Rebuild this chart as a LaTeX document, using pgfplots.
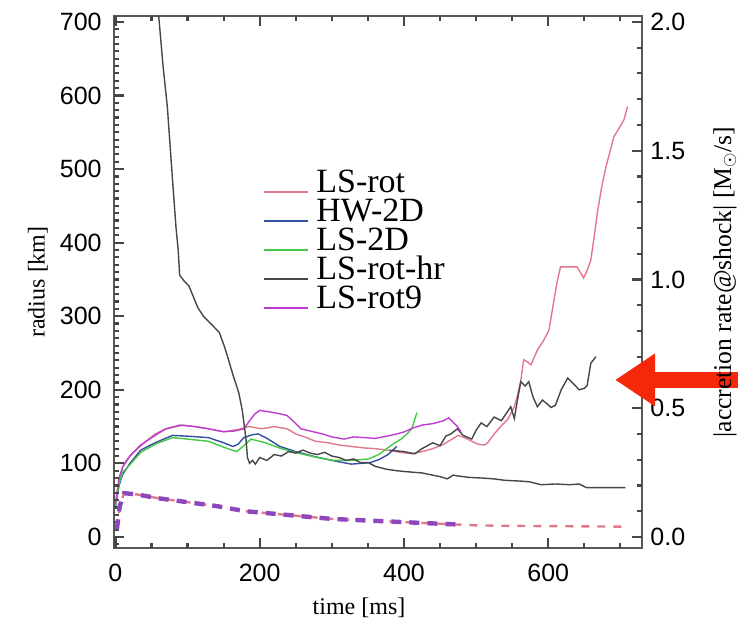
\documentclass[border=0pt]{standalone}
\usepackage{pgfplots}
\pgfplotsset{compat=1.18}
\usepackage{fontspec}
\setmainfont{Liberation Serif}
\setsansfont{Liberation Sans}
\usetikzlibrary{arrows.meta}

\definecolor{lsrot}{RGB}{225,120,140}
\definecolor{hwtwo}{RGB}{50,80,160}
\definecolor{lstwo}{RGB}{70,200,70}
\definecolor{lshr}{RGB}{70,70,70}
\definecolor{rotnine}{RGB}{190,60,210}
\definecolor{dashmix}{RGB}{140,70,190}
\definecolor{arrowred}{RGB}{245,40,10}
\definecolor{tickgray}{RGB}{70,70,70}
\tikzset{tk/.style={draw=tickgray, line width=1.1pt, solid}}

\begin{document}
\begin{tikzpicture}
\begin{axis}[width=264pt, height=266pt, scale only axis,
    xmin=-2, xmax=730, ymin=-15, ymax=708,
    xtick={0,200,400,600}, minor x tick num=3,
    ytick={0,100,...,700}, minor y tick num=9,
    ytick pos=left, tick align=inside,
    major tick length=5pt, minor tick length=2.5pt,
    tick style={draw=tickgray, line width=1.1pt},
    axis line style={black!65, line width=0.9pt},
    tick label style={font=\fontsize{12.5}{14}\selectfont\sffamily},
    label style={font=\fontsize{12}{13}\selectfont},
    /pgf/number format/assume math mode=true,
    xticklabel style={anchor=north, inner sep=0pt, yshift=-8pt},
    yticklabel style={anchor=east, inner sep=0pt, xshift=-6pt},
    xlabel={time [ms]}, ylabel={radius [km]},
    xlabel style={at={(axis description cs:0.464,-0.113)}, anchor=center},
    ylabel style={at={(axis description cs:-0.144,0.5)}, anchor=center},
    legend style={at={(rel axis cs:0.27,0.72)}, anchor=north west,
      draw=none, fill=none, font=\fontsize{17}{17}\selectfont,
      row sep=0pt, nodes={inner sep=0pt, text height=11.5pt, text depth=3pt},
      /tikz/every odd column/.append style={column sep=3.5pt}},
    legend cell align=left,
    legend image code/.code={\draw[#1,line width=1.2pt] (0pt,-4pt) -- (22pt,-4pt);},
    every axis plot/.append style={line width=0.7pt},
    clip=false,
]
% LS-rot
\addplot[lsrot] coordinates {
(0,45) (5,75) (10,95) (15,104) (25,115) (40,128) (55,140) (70,147) (94,152)
(110,150) (129,147) (150,143) (170,146) (185,150) (203,147) (220,150) (238,147)
(250,140) (265,135) (277,130) (295,128) (310,125) (327,123) (345,121) (360,120)
(376,118) (395,115) (411,113) (425,116) (440,120) (455,126) (465,132) (475,138)
(484,135) (494,130) (503,126) (512,125) (516,128) (525,140) (534,150) (544,160)
(553,177) (558,195) (562,213) (566,241) (571,238) (576,234) (585,254) (593,266)
(601,281) (608,322) (612,345) (617,367) (628,367) (640,367) (649,352) (653,360)
(659,376) (664,410) (668,440) (674,475) (680,503) (686,525) (691,544) (698,555)
(705,567) (710,585)
};
\addlegendentry{LS-rot}
% HW-2D
\addplot[hwtwo] coordinates {
(0,40) (5,70) (10,85) (20,100) (35,118) (55,128) (79,138) (100,137) (129,135)
(150,128) (163,123) (170,126) (178,135) (190,139) (198,140) (210,134) (228,123)
(250,116) (277,109) (300,104) (327,99) (340,100) (353,101) (365,105) (378,112)
(390,123)
};
\addlegendentry{HW-2D}
% LS-2D
\addplot[lstwo] coordinates {
(0,40) (5,72) (10,88) (20,98) (35,115) (55,126) (79,135) (100,133) (129,130)
(150,122) (168,116) (178,124) (188,133) (200,130) (208,128) (230,120) (257,113)
(280,108) (302,104) (325,104) (351,106) (365,112) (376,120) (386,127) (396,133)
(404,140) (411,147) (415,160) (418,169)
};
\addlegendentry{LS-2D}
% LS-rot-hr
\addplot[lshr] coordinates {
(380,118) (400,116) (415,113) (425,120) (440,128) (450,124) (458,137) (465,140)
(474,147) (482,138) (494,133) (500,145) (507,155) (515,150) (525,163) (535,158)
(548,177) (553,161) (558,190) (562,211) (568,205) (573,211) (579,190) (585,177)
(592,186) (597,182) (604,176) (610,179) (618,200) (627,216) (635,208) (643,200)
(650,202) (654,206) (659,236) (666,245)
};
\addlegendentry{LS-rot-hr}
% LS-rot9
\addplot[rotnine] coordinates {
(0,45) (5,80) (10,95) (20,110) (35,125) (55,138) (70,147) (89,152) (110,150)
(129,147) (150,143) (165,144) (178,147) (186,158) (193,167) (200,172) (213,170)
(225,168) (238,165) (248,156) (257,147) (270,144) (287,140) (300,136) (317,133)
(330,136) (346,135) (360,134) (376,137) (390,140) (401,143) (412,148) (425,152)
(440,154) (455,158) (462,162) (468,156) (474,150) (479,143)
};
\addlegendentry{LS-rot9}
% declining dark curve
\addplot[lshr, forget plot] coordinates {
(60,708) (66,640) (72,584) (79,487) (84,420) (87,390) (89,356) (95,348)
(102,341) (114,312) (122,300) (129,293) (144,278) (151,259) (157,240) (163,220)
(171,196) (176,171) (181,133) (183,108) (186,100) (190,104) (194,99) (200,108)
(210,104) (220,112) (230,110) (240,116) (250,114) (260,118) (270,114) (280,112)
(290,115) (300,110) (310,108) (320,104) (330,106) (340,101) (351,101) (360,96)
(376,92) (390,90) (400,89) (425,87) (440,84) (450,82) (460,79) (468,84)
(474,83) (490,81) (510,80) (524,79) (540,77) (560,76) (574,75) (590,71)
(610,72) (630,71) (643,72) (653,67) (680,67) (707,67)
};
% tick marks along the frame, both ends in axis units
\pgfplotsinvokeforeach{50,100,150,250,300,350,450,500,550,650,700}{
  \draw[tk] (axis cs:#1,-15) -- (axis cs:#1,-8.2);
  \draw[tk] (axis cs:#1,708) -- (axis cs:#1,701.2);
}
\pgfplotsinvokeforeach{0,200,400,600}{
  \draw[tk] (axis cs:#1,-15) -- (axis cs:#1,-1.4);
  \draw[tk] (axis cs:#1,708) -- (axis cs:#1,694.4);
}
\pgfplotsinvokeforeach{0,100,200,300,400,500,600,700}{
  \draw[tk] (axis cs:-2,#1) -- (axis cs:11.9,#1);
}
\pgfplotsinvokeforeach{-10,10,20,30,40,50,60,70,80,90,110,120,130,140,150,160,170,180,190,210,220,230,240,250,260,270,280,290,310,320,330,340,350,360,370,380,390,410,420,430,440,450,460,470,480,490,510,520,530,540,550,560,570,580,590,610,620,630,640,650,660,670,680,690}{
  \draw[tk] (axis cs:-2,#1) -- (axis cs:4.9,#1);
}
\coordinate (bl) at (rel axis cs:0,0);
\coordinate (tr) at (rel axis cs:1,1);
\end{axis}

\begin{axis}[width=264pt, height=266pt, scale only axis,
    xmin=-2, xmax=730, ymin=-0.0429, ymax=2.0229,
    axis x line=none, axis y line*=right, tick align=inside,
    major tick length=5pt, minor tick length=2.5pt,
    tick style={draw=tickgray, line width=1.1pt},
    axis line style={black!65, line width=0.9pt},
    ytick={0,0.5,...,2}, minor y tick num=4,
    tick label style={font=\fontsize{12.5}{14}\selectfont\sffamily},
    /pgf/number format/assume math mode=true,
    yticklabel style={anchor=west, inner sep=0pt, xshift=4pt,
      /pgf/number format/.cd, fixed, fixed zerofill, precision=1},
    ylabel={|accretion rate@shock| [M$_\odot$/s]},
    ylabel style={at={(axis description cs:1.157,0.5)}, anchor=center,
      font=\fontsize{12.8}{14}\selectfont},
    clip=false,
]
\addplot[lsrot, line width=1.2pt, dash pattern=on 4pt off 4pt] coordinates {
(2,0.03) (6,0.12) (12,0.17) (30,0.165) (60,0.15) (100,0.135) (140,0.12)
(180,0.10) (220,0.09) (260,0.08) (300,0.07) (340,0.065) (380,0.06)
(420,0.055) (460,0.05) (500,0.045) (550,0.043) (600,0.042) (650,0.041)
(710,0.04)
};
\addplot[dashmix, line width=2.2pt, dash pattern=on 5pt off 4pt] coordinates {
(2,0.03) (6,0.12) (12,0.17) (30,0.165) (60,0.15) (100,0.135) (140,0.12)
(180,0.10) (220,0.09) (260,0.08) (300,0.07) (340,0.065) (380,0.06)
(420,0.055) (460,0.05) (480,0.048)
};
\pgfplotsinvokeforeach{0,0.5,1,1.5,2}{
  \draw[tk] (axis cs:730,#1) -- (axis cs:716.1,#1);
}
\pgfplotsinvokeforeach{0.1,0.2,0.3,0.4,0.6,0.7,0.8,0.9,1.1,1.2,1.3,1.4,1.6,1.7,1.8,1.9}{
  \draw[tk] (axis cs:730,#1) -- (axis cs:723.1,#1);
}
\draw[arrowred, line width=8pt, -{Triangle[length=20pt, width=25pt]}]
  (rel axis cs:1.19,0.316) -- (rel axis cs:0.949,0.316);
\end{axis}
\pgfresetboundingbox
\path[use as bounding box] ([shift={(-57pt,-39pt)}]bl) rectangle ([shift={(48pt,8pt)}]tr);
\end{tikzpicture}
\end{document}
